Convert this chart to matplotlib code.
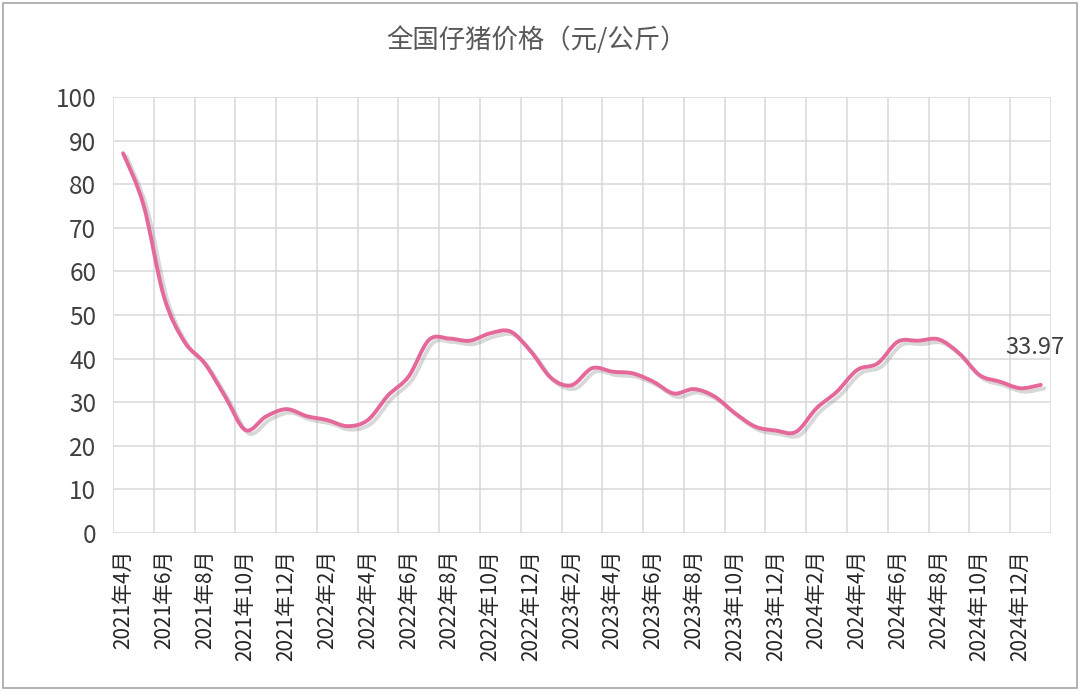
import numpy as np
import matplotlib
matplotlib.use('Agg')
import matplotlib.pyplot as plt
import matplotlib.patheffects as pe
from matplotlib.path import Path
from matplotlib.patches import PathPatch, Rectangle

plt.rcParams['font.family'] = ['Noto Sans CJK SC', 'DejaVu Sans']

title = '全国仔猪价格（元/公斤）'
# monthly values, 2021年4月 .. 2025年1月
prices = [87.1, 75.2, 54.2, 43.9, 38.9, 31.3, 23.6, 26.7, 28.4, 26.8,
          25.9, 24.5, 25.9, 31.6, 35.9, 44.3, 44.6, 44.1, 45.8, 46.2,
          41.6, 35.5, 33.9, 37.8, 37.0, 36.6, 34.7, 32.0, 33.0, 31.3,
          27.5, 24.4, 23.5, 23.2, 28.6, 32.4, 37.4, 38.9, 43.9, 44.1,
          44.4, 41.2, 36.2, 34.7, 33.2, 33.97]
tick_labels = ['2021年4月', '2021年6月', '2021年8月', '2021年10月', '2021年12月',
               '2022年2月', '2022年4月', '2022年6月', '2022年8月', '2022年10月',
               '2022年12月', '2023年2月', '2023年4月', '2023年6月', '2023年8月',
               '2023年10月', '2023年12月', '2024年2月', '2024年4月', '2024年6月',
               '2024年8月', '2024年10月', '2024年12月']
last_label = '33.97'

fig = plt.figure(figsize=(10.8, 6.91), dpi=100)
ax = fig.add_axes([0.1046, 0.2287, 0.8685, 0.6309])

x = np.arange(len(prices))
y = np.array(prices)

# smoothed line like Excel (bezier through the points)
n = len(x)
verts = [(x[0], y[0])]
codes = [Path.MOVETO]
for i in range(n - 1):
    i0 = max(i - 1, 0)
    i3 = min(i + 2, n - 1)
    c1 = (x[i] + (x[i + 1] - x[i0]) / 6, y[i] + (y[i + 1] - y[i0]) / 6)
    c2 = (x[i + 1] - (x[i3] - x[i]) / 6, y[i + 1] - (y[i3] - y[i]) / 6)
    verts += [c1, c2, (x[i + 1], y[i + 1])]
    codes += [Path.CURVE4] * 3
patch = PathPatch(Path(verts, codes), fill=False, edgecolor='#E5689A', lw=2.8,
                  capstyle='round', joinstyle='round', zorder=3)
patch.set_path_effects([pe.SimpleLineShadow(offset=(2.5, -2.5), shadow_color='#909090', alpha=0.35),
                        pe.Normal()])
ax.add_patch(patch)

ax.text(x[-1] - 0.3, y[-1] + 8.5, last_label, ha='center', va='center',
        fontsize=17, color='#404040')

ax.set_xlim(-0.5, len(prices) - 0.5)
ax.set_ylim(0, 100)
ax.set_yticks(np.arange(0, 101, 10))
ax.set_xticks(np.arange(0, len(prices) - 1, 2))
ax.set_xticklabels(tick_labels, rotation=90, fontsize=15, color='#262626')
ax.set_xticks(np.arange(-0.5, len(prices), 2), minor=True)
ax.tick_params(axis='y', length=0, pad=12, labelsize=17.5, labelcolor='#404040')
ax.tick_params(axis='x', which='both', length=0, pad=12)
ax.grid(which='minor', axis='x', color='#d9d9d9', lw=1.1)
ax.grid(which='major', axis='y', color='#d9d9d9', lw=1.1)
ax.grid(which='major', axis='x', visible=False)
for s in ax.spines.values():
    s.set_visible(False)
ax.set_axisbelow(True)

fig.text(0.497, 0.942, title, ha='center', va='center', fontsize=19, color='#595959')
fig.patches.append(Rectangle((0.003, 0.004), 0.994, 0.991, transform=fig.transFigure,
                             fill=False, edgecolor='#a6a6a6', lw=1.2))

fig.savefig('out.png', dpi=100)
